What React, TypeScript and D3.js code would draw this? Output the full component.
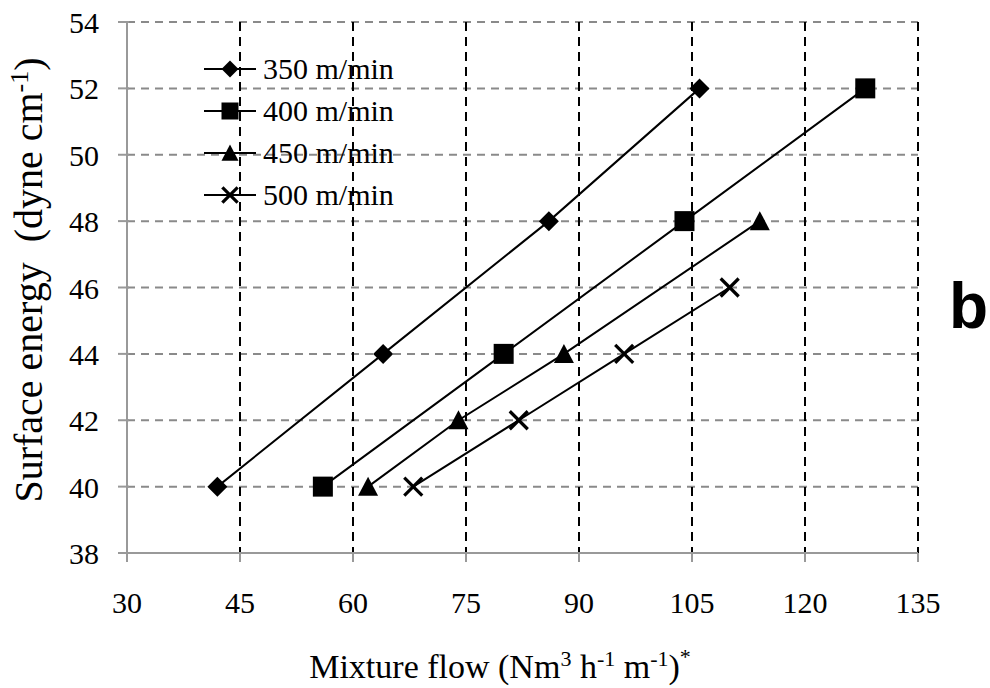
import React from "react";
import * as d3 from "d3";

const xTicks = [30, 45, 60, 75, 90, 105, 120, 135];
const yTicks = [38, 40, 42, 44, 46, 48, 50, 52, 54];

const seriesNames = ["350 m/min", "400 m/min", "450 m/min", "500 m/min"];
const markerTypes = ["diamond", "square", "triangle", "cross"];

const flow350 = [42, 64, 86, 106];
const energy350 = [40, 44, 48, 52];
const flow400 = [56, 80, 104, 128];
const energy400 = [40, 44, 48, 52];
const flow450 = [62, 74, 88, 114];
const energy450 = [40, 42, 44, 48];
const flow500 = [68, 82, 96, 110];
const energy500 = [40, 42, 44, 46];

const seriesX = [flow350, flow400, flow450, flow500];
const seriesY = [energy350, energy400, energy450, energy500];

const W = 990;
const H = 688;

function Marker({ type, cx, cy, s = 1 }: { type: string; cx: number; cy: number; s?: number }) {
  if (type === "diamond") {
    const r = 10 * s;
    return <path d={`M${cx},${cy - r}L${cx + r},${cy}L${cx},${cy + r}L${cx - r},${cy}Z`} fill="#000" />;
  }
  if (type === "square") {
    const h = 10 * s;
    return <rect x={cx - h} y={cy - h} width={2 * h} height={2 * h} fill="#000" />;
  }
  if (type === "triangle") {
    const h = 10 * s;
    return <path d={`M${cx},${cy - h}L${cx + h},${cy + h * 0.9}L${cx - h},${cy + h * 0.9}Z`} fill="#000" />;
  }
  const h = 9 * s;
  return (
    <g stroke="#000" strokeWidth={3.2}>
      <line x1={cx - h} y1={cy - h} x2={cx + h} y2={cy + h} />
      <line x1={cx - h} y1={cy + h} x2={cx + h} y2={cy - h} />
    </g>
  );
}

export default function App() {
  const x = d3.scaleLinear().domain([30, 135]).range([127, 918]);
  const y = d3.scaleLinear().domain([38, 54]).range([553, 22]);
  const line = d3
    .line<[number, number]>()
    .x((d) => x(d[0]))
    .y((d) => y(d[1]));

  const serif = "'Liberation Serif', 'Times New Roman', serif";

  return (
    <svg
      width={W}
      height={H}
      style={{ position: "absolute", left: 0, top: 0, background: "#fff" }}
    >
      <rect x={0} y={0} width={W} height={H} fill="#fff" />
      {yTicks.slice(1).map((t) => (
        <line
          key={"hg" + t}
          x1={x(30)}
          x2={x(135)}
          y1={y(t)}
          y2={y(t)}
          stroke="#8a8a8a"
          strokeWidth={2}
          strokeDasharray="8,6"
        />
      ))}
      {xTicks.slice(1).map((t) => (
        <line
          key={"vg" + t}
          x1={x(t)}
          x2={x(t)}
          y1={y(54)}
          y2={y(38)}
          stroke="#000"
          strokeWidth={2}
          strokeDasharray="9,6"
        />
      ))}
      <line x1={x(30)} x2={x(30)} y1={y(54)} y2={y(38)} stroke="#999" strokeWidth={2} />
      <line x1={x(30)} x2={x(135)} y1={y(38)} y2={y(38)} stroke="#999" strokeWidth={2} />
      {yTicks.map((t) => (
        <line key={"yt" + t} x1={x(30) - 9} x2={x(30) + 2} y1={y(t)} y2={y(t)} stroke="#999" strokeWidth={2} />
      ))}
      {xTicks.map((t) => (
        <line key={"xt" + t} x1={x(t)} x2={x(t)} y1={y(38)} y2={y(38) + 9} stroke="#999" strokeWidth={2} />
      ))}
      {yTicks.map((t) => (
        <text key={"yl" + t} x={99} y={y(t) + 11} textAnchor="end" fontSize={30} fill="#000" fontFamily={serif}>
          {t}
        </text>
      ))}
      {xTicks.map((t) => (
        <text key={"xl" + t} x={x(t)} y={613} textAnchor="middle" fontSize={30} fill="#000" fontFamily={serif}>
          {t}
        </text>
      ))}
      {seriesX.map((xs, i) => {
        const pts = xs.map((v, j) => [v, seriesY[i][j]] as [number, number]);
        return (
          <g key={"s" + i}>
            <path d={line(pts) || ""} fill="none" stroke="#000" strokeWidth={2} />
            {pts.map((p, j) => (
              <Marker key={j} type={markerTypes[i]} cx={x(p[0])} cy={y(p[1])} />
            ))}
          </g>
        );
      })}
      {seriesNames.map((name, i) => {
        const cy = 69 + i * 42;
        return (
          <g key={"lg" + i}>
            <line x1={204} x2={256} y1={cy} y2={cy} stroke="#000" strokeWidth={2} />
            <Marker type={markerTypes[i]} cx={230} cy={cy} s={0.85} />
            <text x={263} y={cy + 10} fontSize={30} fill="#000" fontFamily={serif}>
              {name}
            </text>
          </g>
        );
      })}
      <text
        transform="translate(42,280) rotate(-90)"
        textAnchor="middle"
        fontSize={40}
        fill="#000"
        fontFamily={serif}
        xmlSpace="preserve"
      >
        <tspan>Surface energy  (dyne cm</tspan>
        <tspan fontSize={26} dy={-14}>-1</tspan>
        <tspan dy={14}>)</tspan>
      </text>
      <text x={500} y={678} textAnchor="middle" fontSize={34} fill="#000" fontFamily={serif}>
        <tspan>Mixture flow (Nm</tspan>
        <tspan fontSize={22} dy={-12}>3</tspan>
        <tspan dy={12}> h</tspan>
        <tspan fontSize={22} dy={-12}>-1</tspan>
        <tspan dy={12}> m</tspan>
        <tspan fontSize={22} dy={-12}>-1</tspan>
        <tspan dy={12}>)</tspan>
        <tspan fontSize={22} dy={-14}>*</tspan>
      </text>
      <text x={949} y={328} fontFamily="'Liberation Sans', Arial, sans-serif" fontWeight="bold" fontSize={64} fill="#000">
        b
      </text>
    </svg>
  );
}
